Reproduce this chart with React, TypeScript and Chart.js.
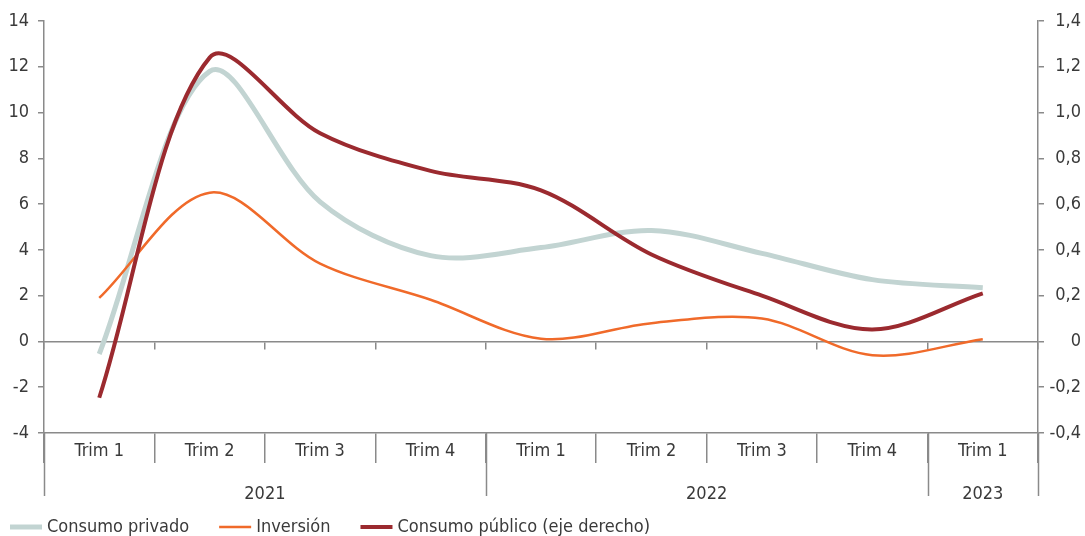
import React, { useEffect, useRef } from "react";
import { Chart, registerables } from "chart.js";

Chart.register(...registerables);

const categories = ["Trim 1", "Trim 2", "Trim 3", "Trim 4", "Trim 1", "Trim 2", "Trim 3", "Trim 4", "Trim 1"];
const years = ["2021", "2022", "2023"];
const yearSpans = [4, 4, 1];

const consumoPrivado = [-0.55, 11.8, 6.1, 3.75, 4.1, 4.85, 3.85, 2.7, 2.35];
const inversion = [1.9, 6.5, 3.4, 1.82, 0.12, 0.8, 1.0, -0.6, 0.1];
const consumoPublico = [-0.246, 1.24, 0.91, 0.745, 0.66, 0.38, 0.2, 0.052, 0.21];

const seriesNames = ["Consumo privado", "Inversión", "Consumo público (eje derecho)"];

const FONT = '"DejaVu Sans Condensed", "Liberation Sans Narrow", sans-serif';
const FSIZE = 18;
const TEXT = "#3a3a3a";
const AXIS = "#8a8a8a";

const groupPlugin = {
  id: "groupsAndLegend",
  afterDraw(chart: any) {
    const { ctx, chartArea } = chart;
    const x = chart.scales.x;
    const top = chartArea.bottom;
    const bottom = top + 63;
    ctx.save();
    ctx.strokeStyle = AXIS;
    ctx.lineWidth = 1.5;
    const bounds = [0];
    let acc = 0;
    yearSpans.forEach((s) => {
      acc += s;
      bounds.push(acc);
    });
    bounds.forEach((b) => {
      const px = Math.round(x.getPixelForValue(b - 0.5)) + 0.5;
      ctx.beginPath();
      ctx.moveTo(px, top);
      ctx.lineTo(px, bottom);
      ctx.stroke();
    });
    ctx.fillStyle = TEXT;
    ctx.font = `${FSIZE}px ${FONT}`;
    ctx.textAlign = "center";
    ctx.textBaseline = "middle";
    years.forEach((yr, i) => {
      const a = x.getPixelForValue(bounds[i] - 0.5);
      const b = x.getPixelForValue(bounds[i + 1] - 0.5);
      ctx.fillText(yr, (a + b) / 2, top + 61);
    });
    // legend
    const ly = 527;
    let lx = 10;
    ctx.textAlign = "left";
    chart.data.datasets.forEach((ds: any) => {
      ctx.strokeStyle = ds.borderColor;
      ctx.lineWidth = ds.borderWidth;
      ctx.beginPath();
      ctx.moveTo(lx, ly);
      ctx.lineTo(lx + 32, ly);
      ctx.stroke();
      ctx.fillStyle = TEXT;
      ctx.fillText(ds.label, lx + 37, ly);
      lx += 37 + ctx.measureText(ds.label).width + 30;
    });
    ctx.restore();
  },
};

export default function App() {
  const ref = useRef<HTMLCanvasElement>(null);
  useEffect(() => {
    if (!ref.current) return;
    Chart.defaults.font.family = FONT;
    Chart.defaults.font.size = FSIZE;
    Chart.defaults.color = TEXT;
    const chart = new Chart(ref.current, {
      type: "line",
      data: {
        labels: categories,
        datasets: [
          {
            label: seriesNames[0],
            data: consumoPrivado,
            borderColor: "#c2d4d2",
            borderWidth: 5,
            yAxisID: "y",
            order: 2,
          },
          {
            label: seriesNames[1],
            data: inversion,
            borderColor: "#f06a2a",
            borderWidth: 2.5,
            yAxisID: "y",
            order: 1,
          },
          {
            label: seriesNames[2],
            data: consumoPublico,
            borderColor: "#9b2a2f",
            borderWidth: 4,
            yAxisID: "y1",
            order: 0,
          },
        ],
      },
      options: {
        animation: false,
        responsive: true,
        maintainAspectRatio: false,
        layout: { padding: { top: 21, bottom: 40, left: 0, right: 4 } },
        elements: {
          point: { radius: 0, hoverRadius: 0 },
          line: { tension: 0.33, fill: false, borderCapStyle: "butt" },
        },
        plugins: {
          legend: { display: false },
          tooltip: { enabled: false },
        },
        scales: {
          x: {
            type: "category",
            position: "bottom",
            offset: true,
            grid: {
              display: true,
              offset: true,
              drawOnChartArea: false,
              drawTicks: true,
              tickLength: 30,
              color: AXIS,
              lineWidth: 1.5,
            },
            border: { display: true, color: AXIS, width: 1.5 },
            ticks: { padding: -22, maxRotation: 0, autoSkip: false, color: TEXT },
            afterFit: (s: any) => {
              s.height = 63;
            },
          },
          x2: {
            type: "category",
            position: { y: 0 } as any,
            offset: true,
            grid: {
              display: true,
              offset: true,
              drawOnChartArea: false,
              drawTicks: true,
              tickLength: 7,
              color: AXIS,
              lineWidth: 1.5,
            },
            border: { display: true, color: AXIS, width: 1.5 },
            ticks: { display: false },
            afterFit: (s: any) => {
              s.height = 0;
            },
          },
          y: {
            type: "linear",
            position: "left",
            min: -4,
            max: 14,
            ticks: {
              stepSize: 2,
              padding: 9,
              color: TEXT,
              callback: (v: any) => String(Math.round(Number(v))),
            },
            grid: {
              drawOnChartArea: false,
              drawTicks: true,
              tickLength: 6,
              color: AXIS,
              lineWidth: 1.5,
            },
            border: { display: true, color: AXIS, width: 1.5 },
            afterFit: (s: any) => {
              s.width = 44;
            },
          },
          y1: {
            type: "linear",
            position: "right",
            min: -0.4,
            max: 1.4,
            ticks: {
              stepSize: 0.2,
              padding: 2,
              color: TEXT,
              crossAlign: "far",
              callback: (v: any) => {
                const n = Number(v);
                if (Math.abs(n) < 1e-9) return "0";
                return n.toFixed(1).replace(".", ",");
              },
            },
            grid: {
              drawOnChartArea: false,
              drawTicks: true,
              tickLength: 6,
              color: AXIS,
              lineWidth: 1.5,
            },
            border: { display: true, color: AXIS, width: 1.5 },
            afterFit: (s: any) => {
              s.width = 43;
            },
          },
        },
      },
      plugins: [groupPlugin],
    });
    return () => chart.destroy();
  }, []);
  return (
    <div style={{ position: "fixed", left: 0, top: 0, width: 1085, height: 536, background: "#fff" }}>
      <canvas ref={ref} />
    </div>
  );
}
